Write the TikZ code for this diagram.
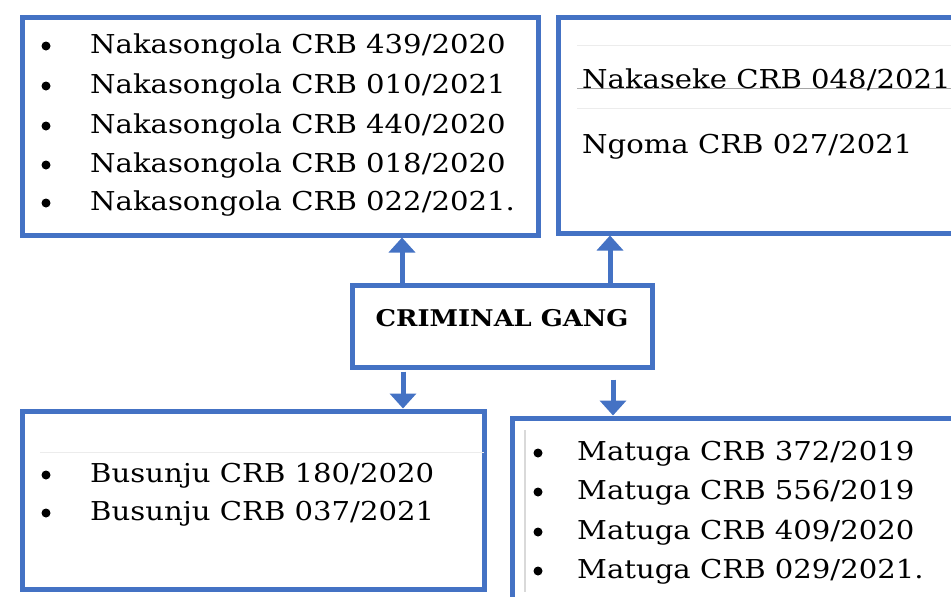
\documentclass[tikz,border=0pt]{standalone}
\usepackage{fontspec}
\setmainfont[FakeStretch=1.12]{DejaVu Serif}
\usetikzlibrary{arrows.meta}
\definecolor{bl}{HTML}{4472C4}
\begin{document}
\begin{tikzpicture}[x=1pt,y=-1pt,
  boxnode/.style={draw=bl,line width=5pt,inner sep=0pt,fill=white},
  txt/.style={anchor=base west,inner sep=0pt,font=\fontsize{26pt}{30pt}\selectfont},
  bul/.style={circle,fill=black,inner sep=0pt,minimum size=9pt},
  arr/.style={draw=bl,line width=5pt,-{Triangle[width=26pt,length=15pt]}},
  faint/.style={draw=gray!15,line width=1pt}]
\useasboundingbox (0,0) rectangle (951,597);
\clip (0,0) rectangle (951,597);
\fill[white] (0,0) rectangle (951,597);
% boxes
\node[boxnode,minimum width=516pt,minimum height=218pt] (A) at (280,126) {};
\node[boxnode,minimum width=402pt,minimum height=216pt] (B) at (759,125) {};
\node[boxnode,minimum width=300pt,minimum height=82pt] (g) at (502,326) {};
\node[boxnode,minimum width=462pt,minimum height=178pt] (C) at (253,500) {};
\node[boxnode,minimum width=458pt,minimum height=192pt] (D) at (741,514) {};
% faint lines
\draw[faint] (577,45) -- (951,45);
\draw[draw=gray!70,line width=1pt] (577,88) -- (951,88);
\draw[faint] (577,108) -- (951,108);
\draw[faint] (40,452) -- (484,452);
\draw[draw=gray!30,line width=1.5pt] (525,430) -- (525,592);
% box A text
\foreach \y/\t [count=\i] in {53/{Nakasongola CRB 439/2020},93/{Nakasongola CRB 010/2021},133/{Nakasongola CRB 440/2020},172/{Nakasongola CRB 018/2020},210/{Nakasongola CRB 022/2021.}}{
  \node[bul] (ab\i) at (46,\y-7) {};
  \node[txt] (at\i) at (90,\y) {\t};
}
% box B text
\node[txt] (bt1) at (582,88) {Nakaseke CRB 048/2021};
\node[txt] (bt2) at (582,153) {Ngoma CRB 027/2021};
% center
\node[anchor=base,inner sep=0pt,font=\fontsize{23pt}{27pt}\selectfont\bfseries] (gt) at (502,326) {CRIMINAL GANG};
% box C text
\foreach \y/\t [count=\i] in {482/{Busunju CRB 180/2020},520/{Busunju CRB 037/2021}}{
  \node[bul] (cb\i) at (46,\y-7) {};
  \node[txt] (ct\i) at (90,\y) {\t};
}
% box D text
\foreach \y/\t [count=\i] in {460/{Matuga CRB 372/2019},499/{Matuga CRB 556/2019},539/{Matuga CRB 409/2020},578/{Matuga CRB 029/2021.}}{
  \node[bul] (db\i) at (538,\y-7) {};
  \node[txt] (dt\i) at (577,\y) {\t};
}
% arrows
\draw[arr] ([xshift=-100pt]g.north) -- ([xshift=-100pt]g.north |- A.south);
\draw[arr] ([xshift=108pt]g.north) -- ([xshift=108pt]g.north |- B.south);
\draw[arr] ([xshift=-99pt,yshift=-2pt]g.south) -- ([xshift=-99pt]g.south |- C.north);
\draw[arr] ([xshift=111pt,yshift=-10pt]g.south) -- ([xshift=111pt]g.south |- D.north);
\end{tikzpicture}
\end{document}
